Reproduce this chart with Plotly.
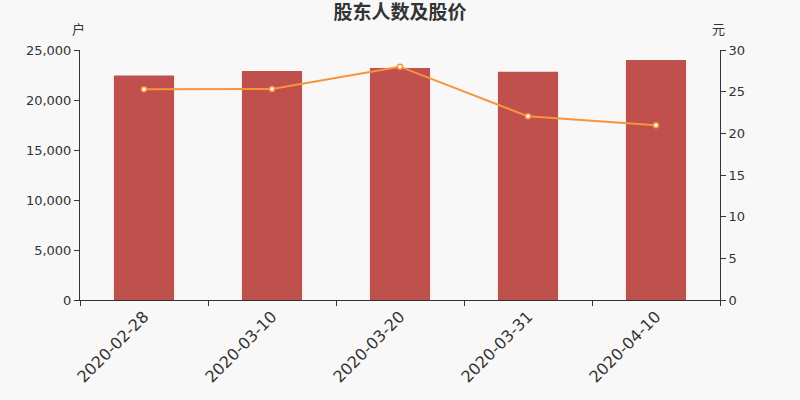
import plotly.graph_objects as go

dates = ["2020-02-28", "2020-03-10", "2020-03-20", "2020-03-31", "2020-04-10"]
holders = [22450, 22900, 23200, 22830, 24000]
price = [25.28, 25.32, 28.0, 22.04, 20.96]

fig = go.Figure()
fig.add_trace(go.Bar(x=dates, y=holders, marker_color="#c0504d", name="股东人数",
                     marker_line_width=0, yaxis="y"))
fig.add_trace(go.Scatter(x=dates, y=price, mode="lines+markers", name="股价",
                         line=dict(color="#f7953b", width=2),
                         marker=dict(size=5, color="white",
                                     line=dict(color="#f7953b", width=1.5)),
                         yaxis="y2"))

font = "DejaVu Sans, Noto Sans CJK SC, sans-serif"
fig.update_layout(
    width=800, height=400,
    paper_bgcolor="#f8f8f8", plot_bgcolor="#f8f8f8",
    margin=dict(l=80, r=80, t=50, b=100),
    showlegend=False,
    bargap=0.53,
    font=dict(family=font, color="#333", size=13),
    title=dict(text="<b>股东人数及股价</b>", x=0.5, xanchor="center",
               y=0.968, yanchor="middle", font=dict(size=19, color="#333")),
    xaxis=dict(type="category", tickson="boundaries", ticks="outside",
               ticklen=5, tickcolor="#333", showline=True, linecolor="#333",
               tickangle=-45, tickfont=dict(size=16), showgrid=False,
               automargin=False),
    yaxis=dict(range=[0, 25000], dtick=5000, tickformat=",", ticks="outside",
               ticklen=5, tickcolor="#333", showline=True, linecolor="#333",
               showgrid=False, zeroline=False, automargin=False),
    yaxis2=dict(range=[0, 30], dtick=5, overlaying="y", side="right",
                ticks="outside", ticklen=5, tickcolor="#333", showline=True,
                linecolor="#333", showgrid=False, zeroline=False,
                automargin=False),
    annotations=[
        dict(text="户", xref="paper", yref="paper", x=-0.003, y=1.08,
             xanchor="center", yanchor="middle", showarrow=False,
             font=dict(size=13)),
        dict(text="元", xref="paper", yref="paper", x=0.997, y=1.08,
             xanchor="center", yanchor="middle", showarrow=False,
             font=dict(size=13)),
    ],
)

fig.write_html("out.html", config={"displayModeBar": False},
               post_script="document.body.style.margin='0';"
                           "document.body.style.background='#f8f8f8';")
